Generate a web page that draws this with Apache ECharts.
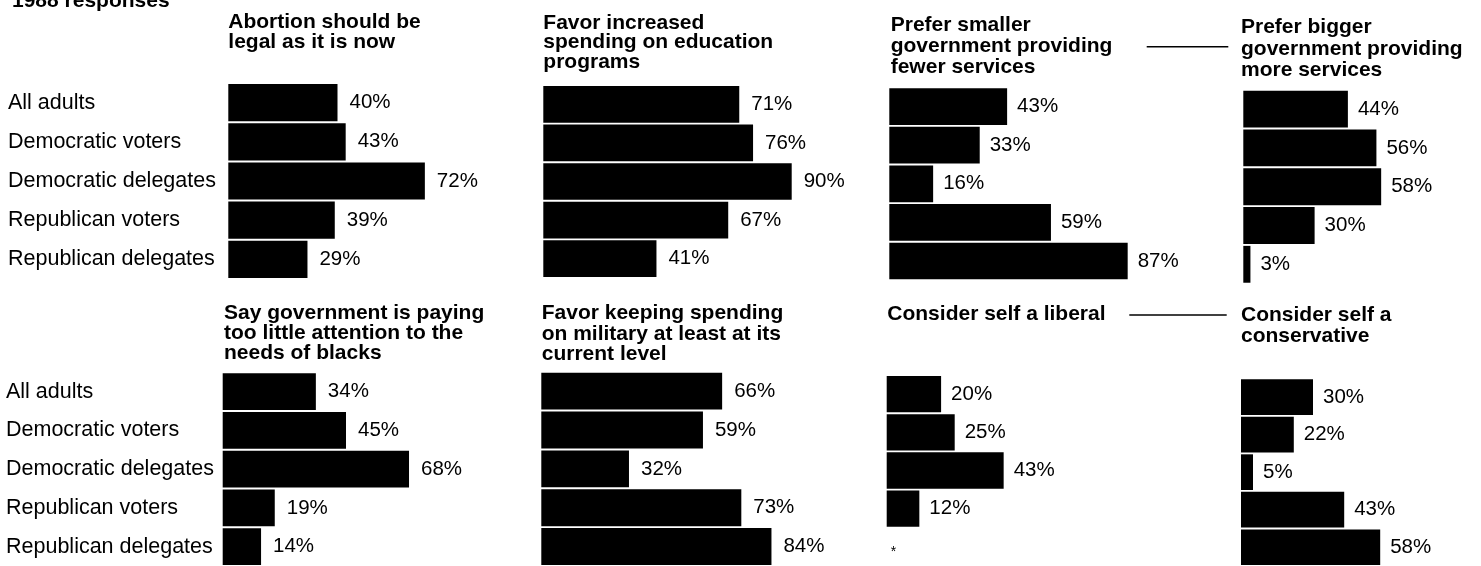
<!DOCTYPE html>
<html>
<head>
<meta charset="utf-8">
<script src="https://cdn.jsdelivr.net/npm/echarts@6/dist/echarts.min.js"></script>
<style>
  html, body { margin: 0; padding: 0; background: #fff; }
  #chart { width: 1481px; height: 566px; }
</style>
</head>
<body>
<div id="chart"></div>
<script>
// ---- data ----
const groups = ['All adults', 'Democratic voters', 'Democratic delegates', 'Republican voters', 'Republican delegates'];
const abortionLegal     = [40, 43, 72, 39, 29];
const educationSpending = [71, 76, 90, 67, 41];
const smallerGov        = [43, 33, 16, 59, 87];
const biggerGov         = [44, 56, 58, 30, 3];
const blacksAttention   = [34, 45, 68, 19, 14];
const militarySpending  = [66, 59, 32, 73, 84];
const liberal           = [20, 25, 43, 12, null];   // null = shown as "*"
const conservative      = [30, 22, 5, 43, 58];
const headerText = '1988 responses';
const panelTitles = [
  'Abortion should be\nlegal as it is now',
  'Favor increased\nspending on education\nprograms',
  'Prefer smaller\ngovernment providing\nfewer services',
  'Prefer bigger\ngovernment providing\nmore services',
  'Say government is paying\ntoo little attention to the\nneeds of blacks',
  'Favor keeping spending\non military at least at its\ncurrent level',
  'Consider self a liberal',
  'Consider self a\nconservative'
];
const panelValues = [abortionLegal, educationSpending, smallerGov, biggerGov,
                     blacksAttention, militarySpending, liberal, conservative];

// ---- layout (positions / styles only) ----
const layout = [
  { left: 228.3, top: 83,    height: 196,   scale: 2.73, titleX: 228.3, titleY: 11.8,  lh: 20,   dist: 12, showCats: true },
  { left: 543.3, top: 85,    height: 193,   scale: 2.76, titleX: 543.3, titleY: 13.0,  lh: 19.8, dist: 12 },
  { left: 889.3, top: 87.3,  height: 193,   scale: 2.74, titleX: 890.7, titleY: 15.2,  lh: 21,   dist: 10 },
  { left: 1243.3,top: 89.7,  height: 194,   scale: 2.75, titleX: 1241,  titleY: 16.8,  lh: 21.3, dist: 10 },
  { left: 222.7, top: 372.3, height: 194,   scale: 2.74, titleX: 224,   titleY: 302.8, lh: 20.3, dist: 12, showCats: true },
  { left: 541.3, top: 371.7, height: 195.3, scale: 2.74, titleX: 541.7, titleY: 302.8, lh: 20.7, dist: 12 },
  { left: 886.7, top: 375,   height: 193,   scale: 2.72, titleX: 887.3, titleY: 304.2, lh: 21,   dist: 10 },
  { left: 1241,  top: 378.3, height: 194,   scale: 2.74, titleX: 1241,  titleY: 305.2, lh: 21,   dist: 10 }
];
const catLabelX = [8, 6];

const FONT = '"Liberation Sans", Arial, Helvetica, sans-serif';

const grids = [], xAxes = [], yAxes = [], series = [], graphics = [];
layout.forEach((p, i) => {
  grids.push({ left: p.left, top: p.top, width: p.scale * 100, height: p.height, containLabel: false });
  xAxes.push({ type: 'value', gridIndex: i, min: 0, max: 100, show: false });
  yAxes.push({
    type: 'category', gridIndex: i, data: groups, inverse: true,
    axisLine: { show: false }, axisTick: { show: false }, splitLine: { show: false },
    axisLabel: {
      show: !!p.showCats, align: 'left',
      margin: p.left - catLabelX[i < 4 ? 0 : 1],
      color: '#000', fontFamily: FONT, fontSize: 21.5
    }
  });
  series.push({
    type: 'bar', xAxisIndex: i, yAxisIndex: i, barCategoryGap: '5%',
    itemStyle: { color: '#000' },
    label: {
      show: true, position: 'right', distance: p.dist, formatter: '{c}%',
      color: '#000', fontFamily: FONT, fontSize: 20.5
    },
    silent: true, animation: false,
    data: panelValues[i].map(v => v === null
      ? { value: 0, label: { formatter: '*', distance: 4, fontSize: 14, offset: [0, 5] } }
      : v)
  });
  graphics.push({
    type: 'text', x: p.titleX, y: p.titleY,
    style: {
      text: panelTitles[i], x: 0, y: 0,
      font: 'bold 21px ' + FONT, fill: '#000',
      lineHeight: p.lh, verticalAlign: 'top'
    }
  });
});

graphics.push({
  type: 'text', x: 12, y: -9.5,
  style: { text: headerText, x: 0, y: 0, font: 'bold 21px ' + FONT, fill: '#000', lineHeight: 20.5, verticalAlign: 'top' }
});
graphics.push({ type: 'line', shape: { x1: 1146.7, y1: 46.7, x2: 1228.3, y2: 46.7 }, style: { stroke: '#000', lineWidth: 1.5 } });
graphics.push({ type: 'line', shape: { x1: 1129.3, y1: 315, x2: 1226.7, y2: 315 }, style: { stroke: '#000', lineWidth: 1.5 } });

const chart = echarts.init(document.getElementById('chart'), null, { renderer: 'canvas' });
chart.setOption({
  backgroundColor: '#fff',
  animation: false,
  grid: grids,
  xAxis: xAxes,
  yAxis: yAxes,
  series: series,
  graphic: graphics
});
</script>
</body>
</html>
